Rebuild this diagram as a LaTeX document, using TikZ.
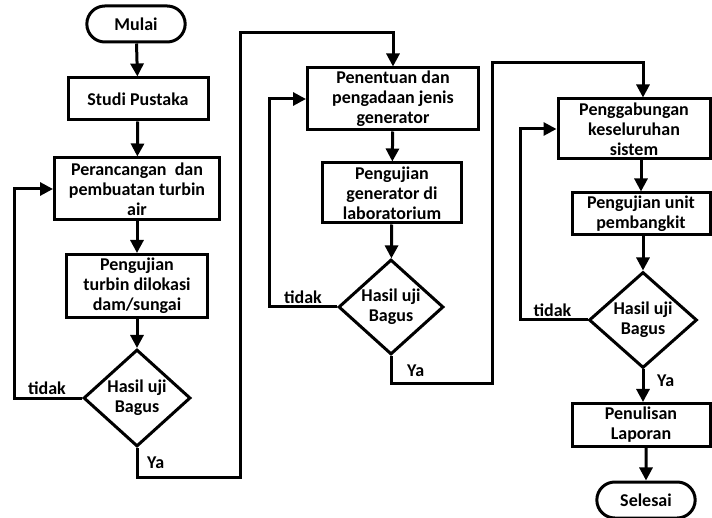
\documentclass[tikz,border=0pt]{standalone}
\usepackage{fontspec}
\setmainfont{Carlito}
\usetikzlibrary{arrows.meta,shapes.geometric,shapes.misc}
\tikzset{
  >={Triangle[width=13pt,length=13pt]},
}
\tikzstyle{every node}=[font=\fontsize{18}{20}\selectfont\bfseries]
\tikzstyle{flow}=[line width=3pt,->]
\tikzstyle{proc}=[draw,line width=3pt,align=center,inner sep=1pt]
\tikzstyle{decide}=[draw,line width=3pt,diamond,align=center,inner sep=0pt,aspect=1.1]
\tikzstyle{term}=[draw,line width=3pt,rounded rectangle,minimum width=105pt,minimum height=36pt]
\tikzstyle{lbl}=[inner sep=0pt]

\begin{document}
\begin{tikzpicture}[x=1pt,y=-1pt]
    \useasboundingbox (0,0) rectangle (712,518);
    % column 1
    \node[term] (mulai) at (136,24) {Mulai};
    \node[proc,minimum width=140pt,minimum height=42pt] (studi) at (138,99) {Studi Pustaka};
    \node[proc,minimum width=165pt,minimum height=62pt] (rancang) at (137,189) {Perancangan~~dan\\pembuatan turbin\\air};
    \node[proc,minimum width=141pt,minimum height=63pt] (ujiturbin) at (137,286) {Pengujian\\turbin dilokasi\\dam/sungai};
    \node[decide,minimum width=107pt,minimum height=97pt] (cek1) at (137,398) {Hasil uji\\Bagus};
    % column 2
    \node[proc,minimum width=171pt,minimum height=62pt] (gen) at (393,99) {Penentuan dan\\pengadaan jenis\\generator};
    \node[proc,minimum width=139pt,minimum height=60pt] (ujigen) at (392,193) {Pengujian\\generator di\\laboratorium};
    \node[decide,minimum width=105pt,minimum height=95pt] (cek2) at (391,307) {Hasil uji\\Bagus};
    % column 3
    \node[proc,minimum width=152pt,minimum height=60pt] (gabung) at (634,129) {Penggabungan\\keseluruhan\\sistem};
    \node[proc,minimum width=138pt,minimum height=42pt] (ujiunit) at (641,214) {Pengujian unit\\pembangkit};
    \node[decide,minimum width=108pt,minimum height=96pt] (cek3) at (643,320) {Hasil uji\\Bagus};
    \node[proc,minimum width=138pt,minimum height=43pt] (tulis) at (641,425) {Penulisan\\Laporan};
    \node[term] (selesai) at (646,500) {Selesai};

    \coordinate (f1) at (14,398);
    \coordinate (f2) at (269,307);
    \coordinate (f3) at (520,320);
    \coordinate (y1) at (240,477);
    \coordinate (y2) at (240,33);
    \coordinate (y3) at (492,384);
    \coordinate (y4) at (492,63);

    \draw[flow] (mulai) -- (studi);
    \draw[flow] (studi) -- (rancang);
    \draw[flow] (rancang) -- (ujiturbin);
    \draw[flow] (ujiturbin) -- (cek1);
    \draw[flow] (cek1.west) -- (f1) |- (rancang.west);
    \draw[flow] (cek1.south) |- (y1) -- (y2) -| (gen.north);

    \draw[flow] (gen) -- (ujigen);
    \draw[flow] (ujigen) -- (cek2);
    \draw[flow] (cek2.west) -- (f2) |- (gen.west);
    \draw[flow] (cek2.south) |- (y3) -- (y4) -| (gabung.north -| cek3);

    \draw[flow] (gabung.south -| ujiunit) -- (ujiunit);
    \draw[flow] (ujiunit.south -| cek3) -- (cek3);
    \draw[flow] (cek3.west) -- (f3) |- (gabung.west);
    \draw[flow] (cek3.south) -- (cek3.south |- tulis.north);
    \draw[flow] (tulis.south -| selesai) -- (selesai);

    \node[lbl,anchor=south east] at ([xshift=-16pt,yshift=3pt]cek1.west) {tidak};
    \node[lbl,anchor=south east] at ([xshift=-15pt,yshift=3pt]cek2.west) {tidak};
    \node[lbl,anchor=south east] at ([xshift=-16pt,yshift=3pt]cek3.west) {tidak};
    \node[lbl,anchor=north west] at ([xshift=10pt,yshift=-9pt]cek1.south) {Ya};
    \node[lbl,anchor=north west] at ([xshift=16pt,yshift=-9pt]cek2.south) {Ya};
    \node[lbl,anchor=north west] at ([xshift=14pt,yshift=-5pt]cek3.south) {Ya};
\end{tikzpicture}
\end{document}
